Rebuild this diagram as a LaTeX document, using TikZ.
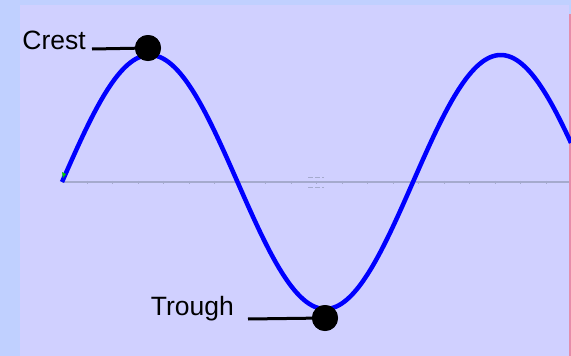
\documentclass[tikz,border=0pt]{standalone}
\usepackage{fontspec}
\setmainfont{Liberation Sans}
\begin{document}
\begin{tikzpicture}[x=1pt,y=-1pt,
  lbl/.style={font=\fontsize{26.5}{30}\selectfont, inner sep=0pt, text=black},
  dot/.style={circle, fill=black, minimum size=26pt, inner sep=0pt},
  leader/.style={line width=3pt, black},
  wave/.style={line width=4.5pt, color={rgb,255:red,0;green,0;blue,255}}]
\definecolor{outerbg}{RGB}{192,208,255}
\definecolor{innerbg}{RGB}{208,208,255}
\definecolor{axisgrey}{RGB}{165,170,205}
\definecolor{pinkedge}{RGB}{230,140,170}
\useasboundingbox (0,0) rectangle (571,356);
\fill[outerbg] (0,0) rectangle (571,356);
\fill[innerbg] (20,5) rectangle (569,356);
\fill[pinkedge] (569,14) rectangle (570.5,356);
% axis
\coordinate (axL) at (62,182);
\coordinate (axR) at (569,182);
\draw[axisgrey, line width=1.2pt] (axL) -- (axR);
\foreach \t in {0,...,18} {
  \draw[axisgrey, line width=0.8pt] ({87+25.5*\t},180.5) -- ({87+25.5*\t},183.5);
}
% small dashed marker
\draw[axisgrey, line width=0.9pt, dash pattern=on 5pt off 2pt] (308,177) -- (324,177);
\draw[axisgrey, line width=0.9pt, dash pattern=on 5pt off 2pt] (308,187) -- (324,187);
% wave
\draw[wave] plot[domain=62:571, samples=250, smooth] (\x, {182-127*sin((\x-62)/351*360)});
\fill[green!80!black] (62,172) -- (66,174) -- (63,178) -- cycle;
% crest
\node[dot] (crest) at (148,48) {};
\node[lbl, anchor=east] (crestlbl) at (86,40) {Crest};
\coordinate (crestend) at (92,49);
\draw[leader] (crestend) -- (crest.center);
% trough
\node[dot] (trough) at (325,318) {};
\node[lbl, anchor=east] (troughlbl) at (234,309) {Trough};
\coordinate (troughend) at (248,319);
\draw[leader] (troughend) -- (trough.center);
\node[dot] at (crest) {};
\node[dot] at (trough) {};
\end{tikzpicture}
\end{document}
